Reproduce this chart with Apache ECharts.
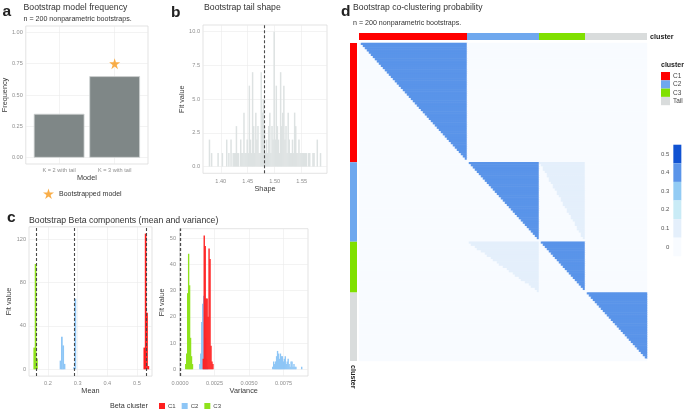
<!DOCTYPE html>
<html><head><meta charset="utf-8">
<script src="https://cdn.jsdelivr.net/npm/echarts@6.0.0/dist/echarts.min.js"></script>
<style>html,body{margin:0;padding:0;background:#fff}#c{width:685px;height:411px}</style>
</head><body><div id="c"></div>
<script>
// ---------------- data ----------------
// panel a
const modelNames = ['K = 2 with tail', 'K = 3 with tail'];
const modelFreq = [0.35, 0.65];
const bootstrappedModelIndex = 2;
const bootstrappedModelMark = 0.75;
const freqTicks = [0, 0.25, 0.5, 0.75, 1];

// panel b
const shapeBinStart = 1.378;
const shapeBinWidth = 0.002;
const shapeCounts = [2,0,1,0,0,0,0,0,1,0,0,0,1,0,0,0,2,0,1,0,2,0,1,1,1,3,1,1,0,2,1,1,4,1,1,2,1,6,2,1,7,3,1,4,2,3,1,1,7,4,5,3,1,2,1,3,4,1,3,2,10,2,6,3,2,1,7,3,4,6,2,3,1,4,2,1,1,2,1,4,3,1,1,2,1,1,1,1,1,1,1,0,1,1,0,0,1,1,0,0,2,0,0,1,0];
const shapeFit = 1.479;
const shapeTicks = [1.40, 1.45, 1.50, 1.55];
const shapeCountTicks = [0, 2.5, 5, 7.5, 10];

// panel c
const betaClusters = ['C1', 'C2', 'C3'];
const meanBinWidth = 0.0045;
const meanBinsC1 = [0.5225, 0.5270, 0.5315, 0.5360];
const meanCountsC1 = [20, 125, 52, 3];
const meanBinsC2 = [0.2400, 0.2445, 0.2490, 0.2535, 0.2855, 0.2900];
const meanCountsC2 = [8, 30, 22, 5, 2, 65];
const meanBinsC3 = [0.1515, 0.1560, 0.1605];
const meanCountsC3 = [20, 97, 10];
const meanFit = [0.529, 0.2935, 0.159];
const meanTicks = [0.2, 0.3, 0.4, 0.5];
const meanCountTicks = [0, 40, 80, 120];

const varBinWidth = 0.00007;
const varBinStartC1 = 0.00165;
const varCountsC1 = [4, 51, 47, 27, 27, 20, 46, 42, 9, 3, 2];
const varBinStartC2a = 0.00140;
const varCountsC2a = [2, 6, 18, 25, 28, 22, 12, 4, 1];
const varBinStartC2b = 0.00668;
const varCountsC2b = [1,3,2,3,5,7,6,4,6,5,5,3,4,5,2,3,4,2,1,3,3,1,2,1,1,0,0,0,0,0,1];
const varBinStartC3 = 0.00038;
const varCountsC3 = [2, 6, 29, 44, 32, 12, 5, 2];
const varFit = [0.00214, 0.00170, 0.00064];
const varTicks = [0, 0.0025, 0.005, 0.0075];
const varCountTicks = [0, 10, 20, 30, 40, 50];

// panel d
const clusterNames = ['C1', 'C2', 'C3', 'Tail'];
const clusterSizes = [54, 36, 23, 31];
const blockProb = [
  [0.42, 0.01, 0.01, 0.01],
  [0.01, 0.42, 0.13, 0.01],
  [0.01, 0.13, 0.42, 0.01],
  [0.01, 0.01, 0.01, 0.42]
];
const belowDiagProb = 0.01;
const probLegendValues = [0, 0.1, 0.2, 0.3, 0.4, 0.5];

// ---------------- styles ----------------
const FF = "'Liberation Sans', Arial, sans-serif";
const betaColors = ['#ff1f1f', '#8ec6f6', '#8fe21c'];
const clusterColors = ['#ff0000', '#6fa8ee', '#80e000', '#d9dcdc'];
const probColors = ['#f8fbff', '#e4effb', '#c9ebf6', '#92cbf4', '#5a94e9', '#1052d2'];
const tickLab = {fontSize: 5.6, color: '#8f8f8f', fontFamily: FF};
const nameSty = {fontSize: 7.3, color: '#3a3a3a', fontFamily: FF};
const split = {show: true, lineStyle: {color: '#ebebeb', width: 0.6}};

function valAxis(o) {
  return Object.assign({
    type: 'value', axisLine: {show: false},
    axisTick: {show: false, customValues: o.ticks},
    axisLabel: Object.assign({customValues: o.ticks, margin: o.margin}, tickLab, o.fmt ? {formatter: o.fmt} : {}),
    splitLine: split, nameLocation: 'middle', nameTextStyle: nameSty
  }, o.extra);
}
function histData(start, width, counts) {
  return counts.map((c, k) => [start + k * width, start + (k + 1) * width, c]);
}
function histEdges(edges, width, counts) {
  return counts.map((c, k) => [edges[k], edges[k] + width, c]);
}
function histRender(params, api) {
  const p0 = api.coord([api.value(0), 0]);
  const p1 = api.coord([api.value(1), api.value(2)]);
  return {type: 'rect', shape: {x: p0[0] - 0.2, y: p1[1], width: p1[0] - p0[0] + 0.4, height: p0[1] - p1[1]},
    style: {fill: api.visual('color')}};
}
function dashLines(values) {
  return {silent: true, symbol: ['none', 'none'], label: {show: false}, animation: false,
    lineStyle: {type: [3, 2], color: '#4a4a4a', width: 1.1},
    data: values.map(v => ({xAxis: v}))};
}

// heatmap data
const N = clusterSizes.reduce((a, b) => a + b, 0);
const clusterOf = [], localPos = [];
clusterSizes.forEach((s, c) => { for (let k = 0; k < s; k++) { clusterOf.push(c); localPos.push((k + 0.5) / s); } });
const heatData = [];
for (let i = 0; i < N; i++) for (let j = 0; j < N; j++) {
  const v = localPos[j] > localPos[i] ? blockProb[clusterOf[i]][clusterOf[j]] : belowDiagProb;
  heatData.push([j, i, v]);
}
const idx = Array.from({length: N}, (_, k) => String(k));
const pieces = probLegendValues.map((b, k) => Object.assign(
  k === 0 ? {gte: -0.05, lte: b + 0.05} : {gt: b - 0.05, lte: b + 0.05},
  {label: String(b), color: probColors[k]}));

const starPath = 'path://M50,0 L61,35 L98,35 L68,57 L79,91 L50,70 L21,91 L32,57 L2,35 L39,35 Z';

// ---------------- grids ----------------
const grid = [
  {left: 24, top: 26, width: 124, height: 138},          // 0 a
  {left: 203, top: 25, width: 124, height: 148.3},       // 1 b
  {left: 29, top: 226.8, width: 123, height: 149.3},     // 2 c mean
  {left: 179.5, top: 228.7, width: 128.5, height: 147.3},// 3 c var
  {left: 359, top: 43, width: 288, height: 318},         // 4 heat
  {left: 359, top: 33, width: 288, height: 7},           // 5 top annot
  {left: 350, top: 43, width: 7, height: 318}            // 6 left annot
].map((g, k) => Object.assign({show: k < 4, borderColor: '#dcdcdc', borderWidth: 0.8, backgroundColor: 'transparent'}, g));

const xAxis = [
  valAxis({ticks: [1, 2], margin: 3, fmt: v => modelNames[Math.round(v) - 1],
    extra: {gridIndex: 0, min: 0.4, max: 2.6, name: 'Model', nameGap: 10}}),
  valAxis({ticks: shapeTicks, margin: 5, fmt: v => v.toFixed(2),
    extra: {gridIndex: 1, min: 1.367, max: 1.597, name: 'Shape', nameGap: 11}}),
  valAxis({ticks: meanTicks, margin: 4, fmt: v => v.toFixed(1),
    extra: {gridIndex: 2, min: 0.136, max: 0.5506, name: 'Mean', nameGap: 11}}),
  valAxis({ticks: varTicks, margin: 4, fmt: v => v.toFixed(4),
    extra: {gridIndex: 3, min: -0.000036, max: 0.00927, name: 'Variance', nameGap: 11}}),
  {type: 'category', gridIndex: 4, data: idx, show: false},
  {type: 'value', gridIndex: 5, min: 0, max: N, show: false},
  {type: 'category', gridIndex: 6, data: ['cluster'], show: false}
];
const yAxis = [
  valAxis({ticks: freqTicks, margin: 3, fmt: v => v.toFixed(2),
    extra: {gridIndex: 0, min: -0.05, max: 1.05, name: 'Frequency', nameGap: 16}}),
  valAxis({ticks: shapeCountTicks, margin: 3, fmt: v => v.toFixed(1),
    extra: {gridIndex: 1, min: -0.5, max: 10.5, name: 'Fit value', nameGap: 15.5}}),
  valAxis({ticks: meanCountTicks, margin: 3, fmt: v => String(v),
    extra: {gridIndex: 2, min: -6.25, max: 131.25, name: 'Fit value', nameGap: 15.5}}),
  valAxis({ticks: varCountTicks, margin: 3.5, fmt: v => String(v),
    extra: {gridIndex: 3, min: -2.55, max: 53.55, name: 'Fit value', nameGap: 13}}),
  {type: 'category', gridIndex: 4, data: idx, show: false, inverse: true},
  {type: 'category', gridIndex: 5, data: ['cluster'], show: false},
  {type: 'value', gridIndex: 6, min: 0, max: N, show: false, inverse: true}
];

const series = [];
// a
series.push({type: 'bar', xAxisIndex: 0, yAxisIndex: 0, barWidth: 50.7,
  data: modelFreq.map((f, k) => [k + 1, f]),
  itemStyle: {color: '#7f8787', borderColor: '#cfd3d3', borderWidth: 0.8}});
series.push({type: 'scatter', name: 'Bootstrapped model', xAxisIndex: 0, yAxisIndex: 0,
  symbol: starPath, symbolSize: 11, itemStyle: {color: '#f89a1c'},
  data: [[bootstrappedModelIndex, bootstrappedModelMark]]});
// b
series.push({type: 'custom', xAxisIndex: 1, yAxisIndex: 1, renderItem: histRender,
  encode: {x: [0, 1], y: 2}, itemStyle: {color: '#dde2e2'},
  data: histData(shapeBinStart, shapeBinWidth, shapeCounts), markLine: dashLines([shapeFit])});
// c (order: C2, C3, C1 so red on top)
const meanSets = [histEdges(meanBinsC1, meanBinWidth, meanCountsC1),
  histEdges(meanBinsC2, meanBinWidth, meanCountsC2),
  histEdges(meanBinsC3, meanBinWidth, meanCountsC3)];
const varSets = [histData(varBinStartC1, varBinWidth, varCountsC1),
  histData(varBinStartC2a, varBinWidth, varCountsC2a).concat(histData(varBinStartC2b, varBinWidth, varCountsC2b)),
  histData(varBinStartC3, varBinWidth, varCountsC3)];
[1, 2, 0].forEach(c => {
  series.push({type: 'custom', name: betaClusters[c], xAxisIndex: 2, yAxisIndex: 2, renderItem: histRender,
    encode: {x: [0, 1], y: 2}, itemStyle: {color: betaColors[c]}, data: meanSets[c]});
});
[1, 2, 0].forEach(c => {
  series.push({type: 'custom', name: betaClusters[c], xAxisIndex: 3, yAxisIndex: 3, renderItem: histRender,
    encode: {x: [0, 1], y: 2}, itemStyle: {color: betaColors[c]}, data: varSets[c]});
});
series.push({type: 'line', xAxisIndex: 2, yAxisIndex: 2, data: [], markLine: dashLines(meanFit)});
series.push({type: 'line', xAxisIndex: 3, yAxisIndex: 3, data: [], markLine: dashLines(varFit)});
// d heatmap
const heatIndex = series.length;
series.push({type: 'heatmap', xAxisIndex: 4, yAxisIndex: 4, data: heatData, progressive: 0,
  emphasis: {disabled: true}, itemStyle: {borderWidth: 0}});
clusterNames.forEach((n, c) => {
  series.push({type: 'bar', name: 'cluster ' + n, xAxisIndex: 5, yAxisIndex: 5, stack: 'top',
    barWidth: '100%', data: [clusterSizes[c]], itemStyle: {color: clusterColors[c]}});
});
clusterNames.forEach((n, c) => {
  series.push({type: 'bar', name: 'cluster ' + n, xAxisIndex: 6, yAxisIndex: 6, stack: 'left',
    barWidth: '100%', data: [clusterSizes[c]], itemStyle: {color: clusterColors[c]}});
});

const txt = (x, y, s, size, opt) => ({type: 'text', x, y, silent: true,
  style: Object.assign({text: s, fontSize: size, fontFamily: FF, fill: '#333', textVerticalAlign: 'middle'}, opt || {})});

const option = {
  animation: false,
  backgroundColor: '#fff',
  grid, xAxis, yAxis, series,
  legend: [
    {data: [{name: 'Bootstrapped model', icon: starPath}], left: 43, top: 188.5, padding: 0,
      itemWidth: 11, itemHeight: 11, itemGap: 4, textStyle: {fontSize: 7, color: '#333', fontFamily: FF}},
    {data: betaClusters, left: 159, top: 403, padding: 0, icon: 'rect', itemWidth: 6, itemHeight: 6, itemGap: 6,
      textStyle: {fontSize: 6, color: '#444', fontFamily: FF, padding: [0, 0, 0, -2]}},
    {data: clusterNames.map(n => 'cluster ' + n), formatter: n => n.replace('cluster ', ''),
      orient: 'vertical', left: 661, top: 72, padding: 0, icon: 'rect', itemWidth: 9, itemHeight: 8.3, itemGap: 0,
      textStyle: {fontSize: 6.5, color: '#444', fontFamily: FF, lineHeight: 8.3, padding: [0, 0, 0, -2]}}
  ],
  visualMap: {type: 'piecewise', seriesIndex: heatIndex, pieces, orient: 'vertical', left: 661, top: 144.7,
    itemWidth: 8, itemHeight: 18.6, itemGap: 0, itemSymbol: 'rect', textGap: 4, padding: 0,
    textStyle: {fontSize: 6, color: '#555', fontFamily: FF}},
  graphic: [
    txt(2.5, 11.5, 'a', 15.5, {fontWeight: 'bold', fill: '#222'}),
    txt(23.5, 8, 'Bootstrap model frequency', 8.7),
    txt(23.5, 19, 'n = 200 nonparametric bootstraps.', 7.1),
    txt(171, 12.5, 'b', 15.5, {fontWeight: 'bold', fill: '#222'}),
    txt(204, 8, 'Bootstrap tail shape', 8.7),
    txt(7, 218, 'c', 15.5, {fontWeight: 'bold', fill: '#222'}),
    txt(29, 220.5, 'Bootstrap Beta components (mean and variance)', 8.7),
    txt(110, 406, 'Beta cluster', 7.2),
    txt(341, 11.5, 'd', 15.5, {fontWeight: 'bold', fill: '#222'}),
    txt(353, 8, 'Bootstrap co-clustering probability', 8.6),
    txt(353, 23, 'n = 200 nonparametric bootstraps.', 7.1),
    txt(650, 37, 'cluster', 7.2, {fontWeight: 'bold', fill: '#222'}),
    txt(661, 65, 'cluster', 7, {fontWeight: 'bold', fill: '#222'}),
    {type: 'text', x: 352.5, y: 365, rotation: -Math.PI / 2, silent: true,
      style: {text: 'cluster', fontSize: 7.2, fontFamily: FF, fontWeight: 'bold', fill: '#222', textVerticalAlign: 'middle'}}
  ]
};
const chart = echarts.init(document.getElementById('c'), null, {renderer: 'canvas'});
chart.setOption(option);
</script></body></html>
